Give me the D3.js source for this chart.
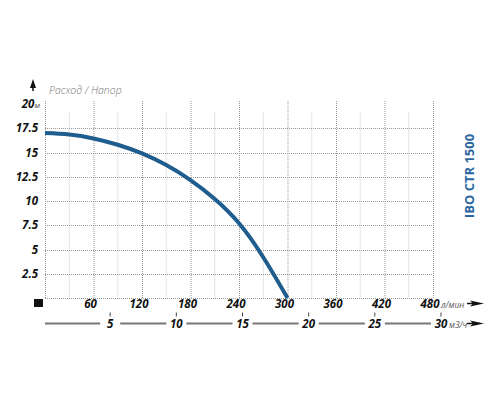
<!DOCTYPE html>
<html>
<head>
<meta charset="utf-8">
<style>
  body { margin: 0; background: #fff; }
  text { font-family: "Open Sans", "DejaVu Sans", sans-serif; }
</style>
</head>
<body>
<svg width="500" height="400"></svg>
<script src="https://d3js.org/d3.v7.min.js"></script>
<script>

// data
const flowLmin = [0, 30, 60, 90, 120, 150, 180, 210, 240, 270, 300];
const headM    = [17.0, 16.85, 16.45, 15.8, 14.9, 13.7, 12.15, 10.2, 7.7, 4.2, 0];
const xTicks   = [60, 120, 180, 240, 300, 360, 420, 480];
const xMinor   = [30, 90, 150, 210, 270, 330, 390, 450];
const yTicks   = [2.5, 5, 7.5, 10, 12.5, 15, 17.5, 20];
const m3hTicks = [5, 10, 15, 20, 25, 30];

const svg = d3.select("svg"),
    blue = "#1f5d8e";

const x = d3.scaleLinear().domain([0, 480]).range([45, 433]);
const y = d3.scaleLinear().domain([0, 20]).range([298, 104]);
const xm = d3.scaleLinear().domain([0, 30]).range([44, 441]);

// grid
const grid = svg.append("g");
grid.selectAll(".minor").data(xMinor).enter().append("line")
    .attr("x1", d => x(d)).attr("x2", d => x(d))
    .attr("y1", y(0)).attr("y2", 112)
    .attr("stroke", "#e4e4e4").attr("stroke-width", 1);

grid.selectAll(".vx").data([0].concat(xTicks)).enter().append("line")
    .attr("x1", d => x(d) + 0.5).attr("x2", d => x(d) + 0.5)
    .attr("y1", y(0)).attr("y2", 101)
    .attr("stroke", "#999").attr("stroke-width", 1)
    .attr("stroke-dasharray", "1,1");

grid.selectAll(".hy").data([0].concat(yTicks.filter(d => d < 20))).enter().append("line")
    .attr("x1", x(0)).attr("x2", x(480))
    .attr("y1", d => Math.round(y(d)) + 0.5).attr("y2", d => Math.round(y(d)) + 0.5)
    .attr("stroke", "#999").attr("stroke-width", 1)
    .attr("stroke-dasharray", "1,1");

// curve
const line = d3.line()
    .x((d, i) => x(flowLmin[i]))
    .y(d => y(d))
    .curve(d3.curveNatural);

svg.append("path")
    .datum(headM)
    .attr("d", line)
    .attr("fill", "none")
    .attr("stroke", blue)
    .attr("stroke-width", 4);

// y labels
svg.append("g").selectAll("text").data(yTicks.filter(d => d < 20)).enter().append("text")
    .attr("x", 38).attr("y", d => y(d) + 4)
    .attr("text-anchor", "end")
    .style("font-size", "11.5px").style("font-weight", "bold").style("font-style", "italic")
    .attr("fill", "#111")
    .text(d => d);

const t20 = svg.append("text")
    .attr("x", 40).attr("y", y(20) + 4)
    .attr("text-anchor", "end")
    .style("font-weight", "bold").style("font-style", "italic")
    .attr("fill", "#111");
t20.append("tspan").style("font-size", "11.5px").text("20");
t20.append("tspan").style("font-size", "8px").style("font-weight", "normal").attr("fill", "#444").text("м");

// y arrow + title
svg.append("path")
    .attr("d", "M33,79 L36,88 L30,88 Z")
    .attr("fill", "#111");
svg.append("line")
    .attr("x1", 33).attr("x2", 33).attr("y1", 86).attr("y2", 91)
    .attr("stroke", "#111").attr("stroke-width", 1.5);

svg.append("text")
    .attr("x", 49).attr("y", 94)
    .style("font-size", "10.5px").style("font-style", "italic").style("font-weight", "300")
    .attr("fill", "#777")
    .text("Расход / Напор");

// origin square
svg.append("rect")
    .attr("x", 34).attr("y", 299).attr("width", 9).attr("height", 8)
    .attr("fill", "#111");

// x labels (л/мин)
svg.append("g").selectAll("text").data(xTicks).enter().append("text")
    .attr("x", d => x(d) - 3).attr("y", 308)
    .attr("text-anchor", "middle")
    .style("font-size", "11.5px").style("font-weight", "bold").style("font-style", "italic")
    .attr("fill", "#111")
    .text(d => d);

svg.append("text")
    .attr("x", 441).attr("y", 308)
    .style("font-size", "8.5px").style("font-style", "italic")
    .attr("fill", "#555")
    .text("л/мин");
svg.append("path")
    .attr("d", "M470,300.5 L484,303.5 L470,306.5 L473,303.5 Z")
    .attr("fill", "#111");
svg.append("line")
    .attr("x1", 467).attr("x2", 475).attr("y1", 303.5).attr("y2", 303.5)
    .attr("stroke", "#111").attr("stroke-width", 1.5);

// m3/h axis
const gapHalf = 10;
let segStart = 45;
const segs = [];
m3hTicks.forEach(d => {
  segs.push([segStart, xm(d) - gapHalf]);
  segStart = xm(d) + gapHalf;
});
svg.append("g").selectAll("line").data(segs).enter().append("line")
    .attr("x1", d => d[0]).attr("x2", d => d[1])
    .attr("y1", 323.5).attr("y2", 323.5)
    .attr("stroke", "#777").attr("stroke-width", 2);

svg.append("g").selectAll("line").data(m3hTicks).enter().append("line")
    .attr("x1", d => xm(d)).attr("x2", d => xm(d))
    .attr("y1", 312.5).attr("y2", 316.5)
    .attr("stroke", "#444").attr("stroke-width", 1);

svg.append("g").selectAll("text").data(m3hTicks).enter().append("text")
    .attr("x", d => xm(d)).attr("y", 327.5)
    .attr("text-anchor", "middle")
    .style("font-size", "11.5px").style("font-weight", "bold").style("font-style", "italic")
    .attr("fill", "#111")
    .text(d => d);

svg.append("text")
    .attr("x", 449).attr("y", 327.5)
    .style("font-size", "8.5px").style("font-style", "italic")
    .attr("fill", "#555")
    .text("м3/ч");
svg.append("path")
    .attr("d", "M470,320.5 L484,323.5 L470,326.5 L473,323.5 Z")
    .attr("fill", "#111");
svg.append("line")
    .attr("x1", 467).attr("x2", 475).attr("y1", 323.5).attr("y2", 323.5)
    .attr("stroke", "#111").attr("stroke-width", 1.5);

// model name
svg.append("text")
    .attr("transform", "translate(474,176) rotate(-90)")
    .attr("text-anchor", "middle")
    .style("font-size", "13px").style("font-weight", "bold")
    .attr("fill", "#2a66a0")
    .text("IBO CTR 1500");

</script>
</body>
</html>
